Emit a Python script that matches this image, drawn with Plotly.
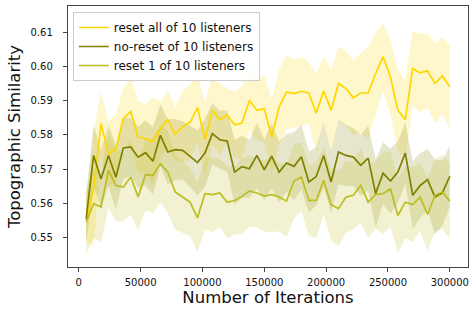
import plotly.graph_objects as go

iterations = list(range(6000, 300001, 6000))

reset_all_mean = [
    0.5550, 0.5643, 0.5833, 0.5745, 0.5760, 0.5848, 0.5869, 0.5794, 0.5789, 0.5781,
    0.5818, 0.5845, 0.5802, 0.5825, 0.5837, 0.5880, 0.5786, 0.5872, 0.5845, 0.5858,
    0.5830, 0.5835, 0.5902, 0.5872, 0.5877, 0.5794, 0.5882, 0.5926, 0.5921, 0.5928,
    0.5923, 0.5864, 0.5929, 0.5872, 0.5951, 0.5936, 0.5909, 0.5923, 0.5923, 0.5980,
    0.6029, 0.5970, 0.5872, 0.5845, 0.5995, 0.5982, 0.5988, 0.5951, 0.5973, 0.5941]
reset_all_sd = [
    0.0060, 0.0170, 0.0095, 0.0095, 0.0100, 0.0090, 0.0100, 0.0106, 0.0100, 0.0130,
    0.0080, 0.0085, 0.0078, 0.0105, 0.0110, 0.0100, 0.0110, 0.0100, 0.0105, 0.0080,
    0.0095, 0.0110, 0.0088, 0.0088, 0.0100, 0.0110, 0.0110, 0.0110, 0.0100, 0.0100,
    0.0090, 0.0116, 0.0100, 0.0120, 0.0107, 0.0110, 0.0110, 0.0117, 0.0135, 0.0120,
    0.0100, 0.0110, 0.0120, 0.0115, 0.0110, 0.0115, 0.0110, 0.0117, 0.0114, 0.0122]

no_reset_mean = [
    0.5555, 0.5740, 0.5671, 0.5740, 0.5676, 0.5762, 0.5765, 0.5735, 0.5748, 0.5723,
    0.5799, 0.5750, 0.5757, 0.5755, 0.5737, 0.5719, 0.5747, 0.5804, 0.5786, 0.5782,
    0.5691, 0.5707, 0.5701, 0.5740, 0.5698, 0.5738, 0.5691, 0.5718, 0.5708, 0.5736,
    0.5662, 0.5678, 0.5740, 0.5662, 0.5750, 0.5740, 0.5735, 0.5711, 0.5732, 0.5628,
    0.5688, 0.5665, 0.5691, 0.5747, 0.5623, 0.5652, 0.5669, 0.5618, 0.5630, 0.5679]
no_reset_sd = [
    0.0070, 0.0090, 0.0085, 0.0090, 0.0095, 0.0090, 0.0085, 0.0090, 0.0095, 0.0100,
    0.0090, 0.0095, 0.0090, 0.0085, 0.0090, 0.0095, 0.0100, 0.0090, 0.0085, 0.0090,
    0.0095, 0.0090, 0.0085, 0.0095, 0.0090, 0.0095, 0.0090, 0.0085, 0.0100, 0.0095,
    0.0090, 0.0085, 0.0095, 0.0090, 0.0095, 0.0090, 0.0085, 0.0090, 0.0095, 0.0100,
    0.0090, 0.0095, 0.0090, 0.0090, 0.0100, 0.0095, 0.0090, 0.0110, 0.0095, 0.0090]

reset_one_mean = [
    0.5545, 0.5599, 0.5589, 0.5696, 0.5652, 0.5647, 0.5677, 0.5618, 0.5684, 0.5681,
    0.5716, 0.5691, 0.5633, 0.5618, 0.5603, 0.5557, 0.5628, 0.5625, 0.5630, 0.5603,
    0.5608, 0.5620, 0.5636, 0.5630, 0.5621, 0.5625, 0.5618, 0.5606, 0.5665, 0.5677,
    0.5608, 0.5608, 0.5667, 0.5596, 0.5584, 0.5618, 0.5623, 0.5652, 0.5603, 0.5626,
    0.5628, 0.5642, 0.5564, 0.5603, 0.5596, 0.5618, 0.5567, 0.5623, 0.5633, 0.5606]
reset_one_sd = [
    0.0095, 0.0100, 0.0105, 0.0110, 0.0105, 0.0100, 0.0110, 0.0098, 0.0105, 0.0110,
    0.0115, 0.0120, 0.0110, 0.0105, 0.0100, 0.0100, 0.0105, 0.0110, 0.0100, 0.0105,
    0.0100, 0.0110, 0.0105, 0.0100, 0.0105, 0.0110, 0.0100, 0.0105, 0.0110, 0.0100,
    0.0105, 0.0110, 0.0100, 0.0105, 0.0110, 0.0105, 0.0100, 0.0110, 0.0105, 0.0100,
    0.0120, 0.0110, 0.0110, 0.0105, 0.0110, 0.0100, 0.0107, 0.0105, 0.0110, 0.0110]

series_names = ["reset all of 10 listeners", "no-reset of 10 listeners", "reset 1 of 10 listeners"]
line_colors = ["#FFD700", "#808000", "#BCBD22"]
fill_colors = ["rgba(255,215,0,0.2)", "rgba(128,128,0,0.2)", "rgba(188,189,34,0.2)"]

x_ticks = [0, 50000, 100000, 150000, 200000, 250000, 300000]
y_ticks = [0.55, 0.56, 0.57, 0.58, 0.59, 0.60, 0.61]

means = [reset_all_mean, no_reset_mean, reset_one_mean]
sds = [reset_all_sd, no_reset_sd, reset_one_sd]

fig = go.Figure()
for name, m, s, lc, fc in zip(series_names, means, sds, line_colors, fill_colors):
    upper = [a + b for a, b in zip(m, s)]
    lower = [a - b for a, b in zip(m, s)]
    fig.add_trace(go.Scatter(x=iterations, y=upper, mode="lines", line=dict(width=0),
                             showlegend=False, hoverinfo="skip"))
    fig.add_trace(go.Scatter(x=iterations, y=lower, mode="lines", line=dict(width=0),
                             fill="tonexty", fillcolor=fc, showlegend=False, hoverinfo="skip"))
for name, m, lc in zip(series_names, means, line_colors):
    fig.add_trace(go.Scatter(x=iterations, y=m, mode="lines", name=name,
                             line=dict(color=lc, width=1.7)))

axis_common = dict(showline=True, mirror=True, linecolor="#444444", linewidth=1.3,
                   ticks="outside", ticklen=4, tickwidth=1, tickcolor="#444444",
                   showgrid=False, zeroline=False,
                   tickfont=dict(family="DejaVu Sans", size=10, color="#111111"))

fig.update_layout(
    width=473, height=309,
    margin=dict(l=68, r=5, t=6, b=42, autoexpand=False),
    paper_bgcolor="white", plot_bgcolor="white",
    font=dict(family="DejaVu Sans", color="#111111"),
    xaxis=dict(range=[-8700, 314700], tickvals=x_ticks,
               ticktext=[str(v) for v in x_ticks],
               title=dict(text="Number of Iterations", font=dict(size=16.5), standoff=4),
               ticklabelstandoff=2,
               **axis_common),
    yaxis=dict(range=[0.5413, 0.6178], tickvals=y_ticks,
               ticktext=["%.2f" % v for v in y_ticks],
               title=dict(text="Topographic Similarity", font=dict(size=16.5), standoff=5),
               ticklabelstandoff=8,
               **axis_common),
    legend=dict(x=0.012, y=0.977, xanchor="left", yanchor="top",
                bgcolor="rgba(255,255,255,0.85)", bordercolor="#CCCCCC", borderwidth=1,
                font=dict(size=12, family="DejaVu Sans"), tracegroupgap=0,
                itemwidth=30, traceorder="normal"),
    showlegend=True,
)

fig.write_html("out.html", config={"displayModeBar": False},
               post_script="document.body.style.margin='0';")
